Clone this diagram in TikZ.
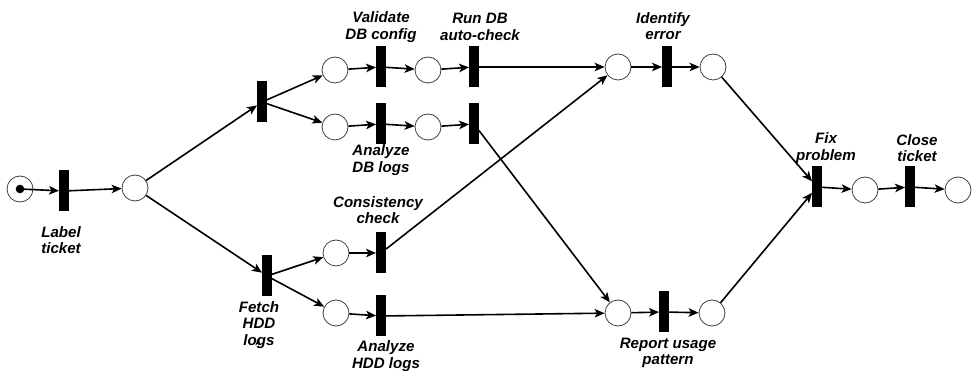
\documentclass[tikz,border=0pt]{standalone}
\usepackage{fontspec}
\setmainfont{Liberation Sans}
\usetikzlibrary{arrows.meta}
\begin{document}
\begin{tikzpicture}[x=1pt,y=-1pt,
  place/.style={circle,draw=black!75,line width=0.8pt,fill=white,minimum size=26pt,inner sep=0pt},
  trans/.style={rectangle,fill=black,minimum width=9.5pt,minimum height=41pt,inner sep=0pt},
  lbl/.style={align=center,font=\fontsize{15.1}{16.6}\selectfont\bfseries\itshape,inner sep=0pt},
  arc/.style={line width=1.6pt,-{Stealth[length=10pt,width=8.5pt,inset=2.5pt]}}]
\useasboundingbox (0,0) rectangle (972,371);

% places
\node[place] (p0) at (20,189) {};
\fill (p0.center) circle (4.3pt);
\node[place] (p1) at (135,188) {};
\node[place] (pa) at (335,70) {};
\node[place] (pb) at (335,127) {};
\node[place] (pc) at (428,70) {};
\node[place] (pd) at (428,127) {};
\node[place] (pe) at (336,253) {};
\node[place] (pf) at (336,313) {};
\node[place] (pg) at (618,67) {};
\node[place] (ph) at (713,67) {};
\node[place] (pi) at (618,313) {};
\node[place] (pj) at (712,313) {};
\node[place] (pk) at (865,190) {};
\node[place] (pz) at (958,190) {};

% transitions
\node[trans] (t1) at (64,191) {};
\node[trans] (t2) at (262,102) {};
\node[trans] (t3) at (267,276) {};
\node[trans] (tval) at (381,67) {};
\node[trans] (tadb) at (381,124) {};
\node[trans] (trun) at (474,67) {};
\node[trans] (tlow) at (474,124) {};
\node[trans] (tcon) at (381,253) {};
\node[trans] (thdd) at (381,316) {};
\node[trans] (tid) at (667,67) {};
\node[trans] (trep) at (664,312) {};
\node[trans] (tfix) at (817,187) {};
\node[trans] (tclo) at (910,187) {};

% arcs
\draw[arc] (p0.center) -- (t1);
\draw[arc] (t1) -- (p1);
\draw[arc] (p1) -- (t2);
\draw[arc] (p1) -- (t3);
\draw[arc] (t2) -- (pa);
\draw[arc] (t2) -- (pb);
\draw[arc] (t3) -- (pe);
\draw[arc] (t3) -- (pf);
\draw[arc] (pa) -- (tval);
\draw[arc] (tval) -- (pc);
\draw[arc] (pc) -- (trun);
\draw[arc] (pb) -- (tadb);
\draw[arc] (tadb) -- (pd);
\draw[arc] (pd) -- (tlow);
\draw[arc] (pe) -- (tcon);
\draw[arc] (pf) -- (thdd);
\draw[arc] (trun) -- (pg);
\draw[arc] (tcon) -- (pg);
\draw[arc] (tlow) -- (pi);
\draw[arc] (thdd) -- (pi);
\draw[arc] (pg) -- (tid);
\draw[arc] (tid) -- (ph);
\draw[arc] (pi) -- (trep);
\draw[arc] (trep) -- (pj);
\draw[arc] (ph) -- (tfix);
\draw[arc] (pj) -- (tfix);
\draw[arc] (tfix) -- (pk);
\draw[arc] (pk) -- (tclo);
\draw[arc] (tclo) -- (pz);

% transition labels
\node[lbl] (l1) at (61,240) {Label\\ticket};
\node[lbl] (lval) at (381,27) {Validate\\DB config};
\node[lbl] (lrun) at (480,27) {Run DB\\auto-check};
\node[lbl] (ladb) at (381,160) {Analyze\\DB logs};
\node[lbl] (lcon) at (378,210) {Consistency\\check};
\node[lbl] (lfet) at (259,325) {Fetch\\HDD\\logs};
\node[lbl] (lhdd) at (386,356) {Analyze\\HDD logs};
\node[lbl] (lid) at (663,26) {Identify\\error};
\node[lbl] (lrep) at (668,353) {Report usage\\pattern};
\node[lbl] (lfix) at (826,148) {Fix\\problem};
\node[lbl] (lclo) at (917,148) {Close\\ticket};

% stray arrow tip inside the "logs" label
\fill (255.3,345.5) -- (258,338.5) -- (260.7,345.5) -- (258,343.5) -- cycle;
\end{tikzpicture}
\end{document}
